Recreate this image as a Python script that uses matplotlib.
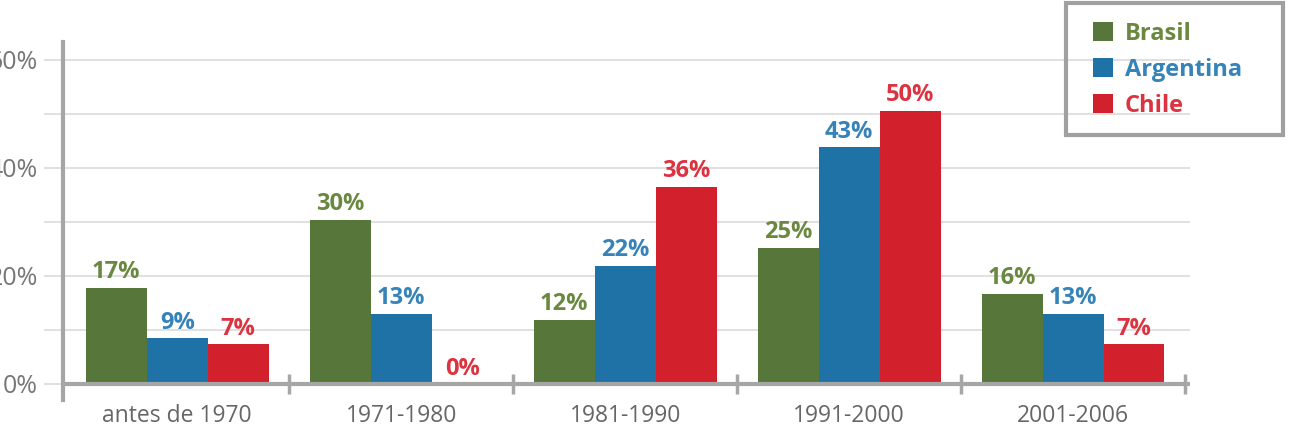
import numpy as np
import matplotlib
matplotlib.use("Agg")
import matplotlib.pyplot as plt
from matplotlib.patches import Patch, Rectangle

plt.rcParams['font.family'] = ['Open Sans', 'DejaVu Sans']

periods = ["antes de 1970", "1971-1980", "1981-1990", "1991-2000", "2001-2006"]
series_names = ["Brasil", "Argentina", "Chile"]
brasil = [17.8, 30.4, 11.9, 25.2, 16.7]
argentina = [8.5, 13.0, 21.9, 43.9, 13.0]
chile = [7.4, 0.0, 36.5, 50.6, 7.4]
brasil_labels = ["17%", "30%", "12%", "25%", "16%"]
argentina_labels = ["9%", "13%", "22%", "43%", "13%"]
chile_labels = ["7%", "0%", "36%", "50%", "7%"]

bar_colors = ["#56763a", "#1f72a6", "#d3202d"]
text_colors = ["#6a8840", "#3583b8", "#dd3340"]
grid_color = "#dddddd"
axis_color = "#a6a6a6"


def main():
    fig = plt.figure(figsize=(13.03, 4.38), dpi=100)
    ax = fig.add_axes([63 / 1303, 1 - 400 / 438, (1190 - 63) / 1303, (400 - 42) / 438])

    x = np.arange(len(periods))
    width = 0.272
    all_values = [brasil, argentina, chile]
    all_labels = [brasil_labels, argentina_labels, chile_labels]

    # gridlines behind bars
    for g in range(10, 70, 10):
        ax.axhline(g, color=grid_color, lw=1.3, zorder=0)

    for i, (vals, labs) in enumerate(zip(all_values, all_labels)):
        pos = x + (i - 1) * width
        ax.bar(pos, vals, width=width, color=bar_colors[i], zorder=2)
        for px, v, lab in zip(pos, vals, labs):
            ax.text(px, v + 0.6, lab, ha="center", va="bottom", fontsize=17,
                    fontweight="bold", color=text_colors[i], zorder=3)

    ax.set_xlim(-0.51, len(periods) - 1 + 0.522)
    ax.set_ylim(-3, 63.3)

    # x axis line and category dividers
    ax.axhline(0, color=axis_color, lw=3, zorder=4)
    mids = x + 0.5
    ax.vlines(mids, -1.9, 1.9, color=axis_color, lw=2.5, zorder=4)

    for s in ["top", "right", "bottom"]:
        ax.spines[s].set_visible(False)
    ax.spines["left"].set_color(axis_color)
    ax.spines["left"].set_linewidth(3)

    ax.set_yticks([0, 20, 40, 60])
    ax.set_yticklabels(["0%", "20%", "40%", "60%"])
    ax.set_yticks([10, 30, 50], minor=True)
    ax.tick_params(axis="y", which="both", length=14, width=1.3, color=grid_color,
                   labelsize=18, labelcolor="#777777", pad=4)

    ax.set_xticks(x)
    ax.set_xticklabels(periods)
    ax.tick_params(axis="x", length=0, labelsize=16.5, labelcolor="#666666", pad=3)

    # legend box
    fig.patches.append(Rectangle((1066 / 1303, 1 - 135 / 438), 217 / 1303, 132 / 438,
                                 transform=fig.transFigure, fill=False,
                                 edgecolor="#a0a0a0", linewidth=3))
    handles = [Patch(facecolor=c, edgecolor="none") for c in bar_colors]
    leg = fig.legend(handles, series_names, loc="upper left",
                     bbox_to_anchor=(1093 / 1303, 1 - 22 / 438), frameon=False,
                     fontsize=17, handlelength=0.85, handleheight=0.85,
                     handletextpad=0.5, borderpad=0, labelspacing=0.5,
                     borderaxespad=0)
    for t, c in zip(leg.get_texts(), text_colors):
        t.set_color(c)
        t.set_fontweight("bold")

    fig.savefig("out.png", dpi=100)


if __name__ == "__main__":
    main()
